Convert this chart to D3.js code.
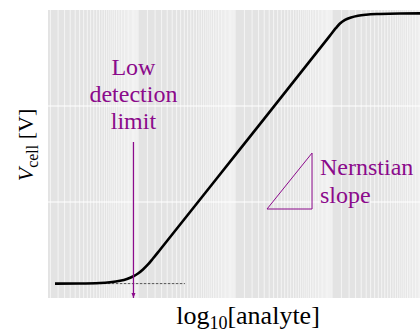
<!DOCTYPE html>
<html>
<head>
<meta charset="utf-8">
<script src="https://cdn.jsdelivr.net/npm/d3@7"></script>
<style>
  body { margin: 0; background: #fff; }
  svg { display: block; }
  svg text { font-family: "Liberation Serif", "DejaVu Serif", "Times New Roman", serif; }
</style>
</head>
<body>
<svg id="chart" width="420" height="333"></svg>
<script>
// log10 concentration and cell voltage
const logConc = [-7.856, -7.598, -7.392, -7.289, -7.186, -7.114, -7.052, -7.000, -6.949, -6.897, -6.846, -6.773,
                 -5.983, -5.021, -4.959, -4.918, -4.866, -4.804, -4.732, -4.650, -4.505, -4.299, -4.093];
const vCell = [0.0150, 0.0151, 0.0156, 0.0164, 0.0179, 0.0198, 0.0224, 0.0255, 0.0297, 0.0349, 0.0411, 0.0503,
               0.1507, 0.2733, 0.2813, 0.2859, 0.2896, 0.2922, 0.2940, 0.2951, 0.2959, 0.2964, 0.2965];

// baseline asymptote (dashed), detection-limit arrow, slope triangle
const baseLog = [-7.6, -6.516];
const baseV = 0.015;
const lodLog = -7.047;
const lodV = [0.1625, 0.0];
const triLog = [-5.670, -5.206, -5.206];
const triV = [0.0927, 0.151, 0.0927];

const yBreaks = [0.1, 0.2];
const decades = [-8, -7, -6, -5, -4];
const minorSteps = d3.range(1, 10, 0.25);

const lodLabel = ["Low", "detection", "limit"];
const slopeLabel = ["Nernstian", "slope"];

const svg = d3.select("#chart");
const panel = { left: 48, right: 420, top: 10, bottom: 298 };
const serif = "'Liberation Serif', 'DejaVu Serif', serif";

const x = d3.scaleLog()
    .domain([Math.pow(10, -7.928), Math.pow(10, -4.093)])
    .range([panel.left, panel.right]);
const y = d3.scaleLinear()
    .domain([0, 0.3])
    .range([panel.bottom, panel.top]);

const purple = "#8b0a8b";

svg.append("defs").append("clipPath").attr("id", "clip")
  .append("rect")
    .attr("x", panel.left).attr("y", panel.top)
    .attr("width", panel.right - panel.left).attr("height", panel.bottom - panel.top);

svg.append("rect")
    .attr("x", panel.left).attr("y", panel.top)
    .attr("width", panel.right - panel.left).attr("height", panel.bottom - panel.top)
    .attr("fill", "#e3e3e3");

// dense minor grid
const minor = [];
decades.forEach(d => minorSteps.forEach(m => minor.push(m * Math.pow(10, d))));
const grid = svg.append("g").attr("clip-path", "url(#clip)");
grid.selectAll("line.v")
  .data(minor.filter(v => v >= x.domain()[0] && v <= x.domain()[1]))
  .enter().append("line")
    .attr("class", "v")
    .attr("x1", d => x(d)).attr("x2", d => x(d))
    .attr("y1", panel.top).attr("y2", panel.bottom)
    .attr("stroke", "#fff")
    .attr("stroke-width", 0.7)
    .attr("stroke-opacity", 0.9);

grid.selectAll("line.h")
  .data(yBreaks)
  .enter().append("line")
    .attr("class", "h")
    .attr("x1", panel.left).attr("x2", panel.right)
    .attr("y1", d => y(d)).attr("y2", d => y(d))
    .attr("stroke", "#fff")
    .attr("stroke-width", 1.2);

// dashed baseline
svg.append("line")
    .attr("x1", x(Math.pow(10, baseLog[0]))).attr("x2", x(Math.pow(10, baseLog[1])))
    .attr("y1", y(baseV)).attr("y2", y(baseV))
    .attr("stroke", "#555")
    .attr("stroke-width", 1)
    .attr("stroke-dasharray", "2.5,1.5");

// response curve
const line = d3.line()
    .x((d, i) => x(Math.pow(10, logConc[i])))
    .y(d => y(d))
    .curve(d3.curveMonotoneX);

svg.append("path")
    .attr("clip-path", "url(#clip)")
    .attr("d", line(vCell))
    .attr("fill", "none")
    .attr("stroke", "#000")
    .attr("stroke-width", 2.6);

// detection limit arrow
svg.append("defs").append("marker")
    .attr("id", "arrow")
    .attr("viewBox", "0 0 10 10")
    .attr("refX", 10).attr("refY", 5)
    .attr("markerWidth", 4).attr("markerHeight", 4)
    .attr("orient", "auto")
  .append("path")
    .attr("d", "M0,1L10,5L0,9z")
    .attr("fill", purple);

const lodX = x(Math.pow(10, lodLog));
svg.append("line")
    .attr("x1", lodX).attr("x2", lodX)
    .attr("y1", y(lodV[0])).attr("y2", y(lodV[1]))
    .attr("stroke", purple)
    .attr("stroke-width", 1.3)
    .attr("marker-end", "url(#arrow)");

svg.append("g")
    .attr("fill", purple)
    .attr("font-family", serif)
    .attr("font-size", 24)
    .attr("text-anchor", "middle")
  .selectAll("text")
  .data(lodLabel)
  .enter().append("text")
    .attr("x", lodX)
    .attr("y", (d, i) => 75 + i * 27)
    .text(d => d);

// slope triangle
svg.append("path")
    .attr("d", d3.line()(triLog.map((l, i) => [x(Math.pow(10, l)), y(triV[i])])) + "Z")
    .attr("fill", "none")
    .attr("stroke", purple)
    .attr("stroke-width", 1);

svg.append("g")
    .attr("fill", purple)
    .attr("font-family", serif)
    .attr("font-size", 24)
  .selectAll("text")
  .data(slopeLabel)
  .enter().append("text")
    .attr("x", 320)
    .attr("y", (d, i) => 175 + i * 28)
    .text(d => d);

// axis titles
const xt = svg.append("text")
    .attr("x", 248).attr("y", 324)
    .attr("text-anchor", "middle")
    .attr("font-family", serif)
    .attr("font-size", 26)
    .attr("fill", "#000");
xt.append("tspan").text("log");
xt.append("tspan").attr("font-size", 18).attr("dy", 5).text("10");
xt.append("tspan").attr("dy", -5).text("[analyte]");

const yt = svg.append("text")
    .attr("transform", "translate(33,145) rotate(-90)")
    .attr("text-anchor", "middle")
    .attr("font-family", serif)
    .attr("font-size", 22)
    .attr("fill", "#000");
yt.append("tspan").attr("font-style", "italic").text("V");
yt.append("tspan").attr("font-size", 16).attr("dy", 5).text("cell");
yt.append("tspan").attr("dy", -5).text(" [V]");
</script>
</body>
</html>
